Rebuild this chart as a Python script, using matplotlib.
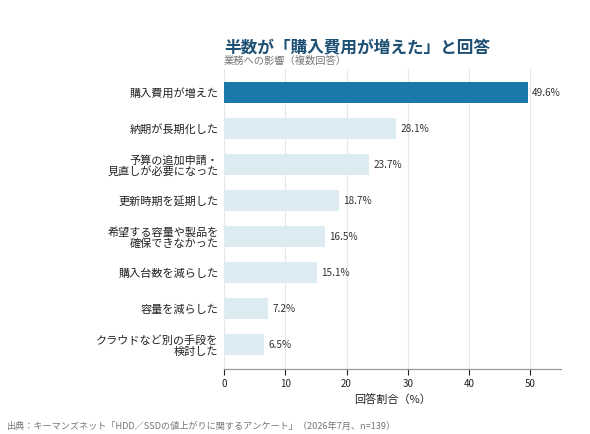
import numpy as np
import matplotlib.pyplot as plt

plt.rcParams['font.family'] = ['Noto Sans CJK JP', 'DejaVu Sans']

labels = ['購入費用が増えた', '納期が長期化した', '予算の追加申請・\n見直しが必要になった',
          '更新時期を延期した', '希望する容量や製品を\n確保できなかった', '購入台数を減らした',
          '容量を減らした', 'クラウドなど別の手段を\n検討した']
values = [49.6, 28.1, 23.7, 18.7, 16.5, 15.1, 7.2, 6.5]
xticks = [0, 10, 20, 30, 40, 50]

fig = plt.figure(figsize=(5.9, 4.34), dpi=100)
ax = fig.add_axes([0.3797, 0.1498, 0.5712, 0.691])

y = np.arange(len(values))
colors = ['#1a78aa'] + ['#ddebf3'] * (len(values) - 1)
ax.barh(y, values, height=0.58, color=colors, zorder=2)

for yi, v in zip(y, values):
    ax.text(v + 0.7, yi, f'{v}%', va='center', ha='left', fontsize=7.2, color='#333333')

ax.set_xlim(0, 55)
ax.set_ylim(7.67, -0.66)
ax.set_yticks(y)
ax.set_yticklabels(labels, fontsize=8, color='#222222', linespacing=1.05)
ax.tick_params(axis='y', length=0, pad=4)
ax.set_xticks(xticks)
ax.set_xticklabels([str(t) for t in xticks], fontsize=7, color='#222222')
ax.tick_params(axis='x', length=4, width=0.8, color='#222222', pad=3)
ax.xaxis.grid(True, color='#e6e6e6', linewidth=0.8, zorder=0)
ax.set_axisbelow(True)
for s in ['top', 'right', 'left']:
    ax.spines[s].set_visible(False)
ax.spines['bottom'].set_color('#999999')
ax.spines['bottom'].set_linewidth(0.9)
ax.set_xlabel('回答割合（%）', fontsize=8, color='#222222', labelpad=4)

fig.text(0.3797, 0.889, '半数が「購入費用が増えた」と回答', fontsize=12, fontweight='bold',
         color='#1c4f73', ha='left', va='center')
fig.text(0.3797, 0.860, '業務への影響（複数回答）', fontsize=7.4, color='#777777', ha='left', va='center')
fig.text(0.012, 0.018, '出典：キーマンズネット「HDD／SSDの値上がりに関するアンケート」（2026年7月、n=139）',
         fontsize=6.6, color='#777777', ha='left', va='center')

fig.savefig('out.png', dpi=100)
